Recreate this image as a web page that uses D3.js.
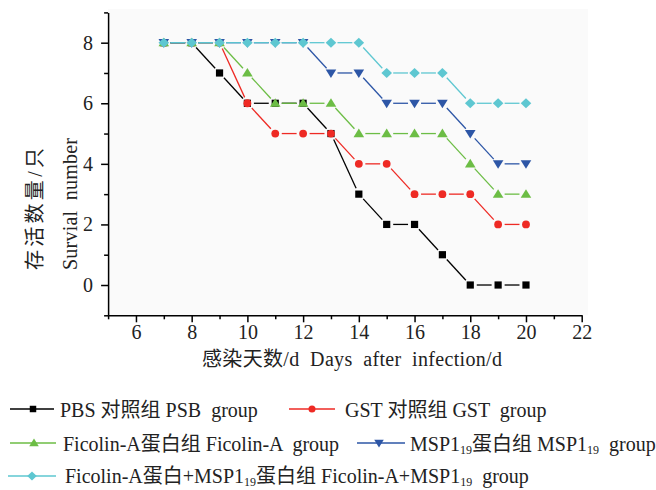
<!DOCTYPE html>
<html>
<head>
<meta charset="utf-8">
<script src="https://cdn.jsdelivr.net/npm/d3@7"></script>
<style>
  html, body { margin: 0; padding: 0; background: #fff; }
  svg { display: block; }
  text { font-family: "Liberation Serif", "Times New Roman", "Noto Sans CJK SC", serif; fill: #222; }
</style>
</head>
<body>
<svg id="chart" width="656" height="490"></svg>
<script>
// ---- data ----
const days = [7, 8, 9, 10, 11, 12, 13, 14, 15, 16, 17, 18, 19, 20];
const pbsGroup      = [8, 8, 7, 6, 6, 6, 5, 3, 2, 2, 1, 0, 0, 0];
const gstGroup      = [8, 8, 8, 6, 5, 5, 5, 4, 4, 3, 3, 3, 2, 2];
const ficolinGroup  = [8, 8, 8, 7, 6, 6, 6, 5, 5, 5, 5, 4, 3, 3];
const mspGroup      = [8, 8, 8, 8, 8, 8, 7, 7, 6, 6, 6, 5, 4, 4];
const comboGroup    = [8, 8, 8, 8, 8, 8, 8, 8, 7, 7, 7, 6, 6, 6];
const xMajorTicks = [6, 8, 10, 12, 14, 16, 18, 20, 22];
const xMinorTicks = [5, 7, 9, 11, 13, 15, 17, 19, 21];
const yMajorTicks = [0, 2, 4, 6, 8];
const yMinorTicks = [-1, 1, 3, 5, 7, 9];
const xTitle = "感染天数/d  Days  after  infection/d";
const yTitleCn = "存活数量/只";
const yTitleEn = "Survial  number";

// legend labels: pieces [text, isSubscript]
const labelPBS   = [["PBS 对照组 PSB  group", false]];
const labelGST   = [["GST 对照组 GST  group", false]];
const labelFico  = [["Ficolin-A蛋白组 Ficolin-A  group", false]];
const labelMSP   = [["MSP1", false], ["19", true], ["蛋白组 MSP1", false], ["19", true], ["  group", false]];
const labelCombo = [["Ficolin-A蛋白+MSP1", false], ["19", true], ["蛋白组 Ficolin-A+MSP1", false], ["19", true], ["  group", false]];

const series = [
  { values: pbsGroup,     color: "#000000", marker: "square",   label: labelPBS },
  { values: gstGroup,     color: "#ee2a24", marker: "circle",   label: labelGST },
  { values: ficolinGroup, color: "#6cbd45", marker: "triangle", label: labelFico },
  { values: mspGroup,     color: "#2d56a6", marker: "down",     label: labelMSP },
  { values: comboGroup,   color: "#5ec7d1", marker: "diamond",  label: labelCombo }
];

// ---- layout ----
const svg = d3.select("#chart");
const x = d3.scaleLinear().domain([5, 22]).range([108.1, 581.7]);
const y = d3.scaleLinear().domain([-1, 9]).range([315.3, 12.4]);

// plot background
svg.append("rect")
  .attr("x", x(5)).attr("y", 9)
  .attr("width", 588 - x(5)).attr("height", y(-1) - 9)
  .attr("fill", "#fafafa");

// axes
function styleAxis(g) {
  g.selectAll("path, line").attr("stroke", "#000").attr("stroke-width", 1.5);
  g.selectAll("text").style("font-size", "20px")
    .style("font-family", '"Liberation Serif", "Times New Roman", serif').attr("fill", "#222");
}
const gx = svg.append("g").attr("transform", `translate(0,${y(-1)})`);
gx.call(d3.axisBottom(x).tickValues(xMajorTicks).tickSize(7).tickSizeOuter(0).tickPadding(3).tickFormat(d3.format("d")));
gx.append("g").call(d3.axisBottom(x).tickValues(xMinorTicks).tickSize(4).tickSizeOuter(0).tickFormat(""))
  .select(".domain").remove();
styleAxis(gx);

const gy = svg.append("g").attr("transform", `translate(${x(5)},0)`);
gy.call(d3.axisLeft(y).tickValues(yMajorTicks).tickSize(7).tickSizeOuter(0).tickPadding(8).tickFormat(d3.format("d")));
gy.append("g").call(d3.axisLeft(y).tickValues(yMinorTicks).tickSize(4).tickSizeOuter(0).tickFormat(""))
  .select(".domain").remove();
styleAxis(gy);

// titles
svg.append("text").attr("x", 202).attr("y", 366)
  .attr("textLength", 300).attr("lengthAdjust", "spacing")
  .style("font-size", "20px").style("white-space", "pre").text(xTitle);

svg.append("text").attr("transform", "translate(42,270) rotate(-90)")
  .attr("textLength", 122).attr("lengthAdjust", "spacing")
  .style("font-size", "20px").text(yTitleCn);
svg.append("text").attr("transform", "translate(77,270) rotate(-90)")
  .attr("textLength", 132).attr("lengthAdjust", "spacing")
  .style("font-size", "20px").style("white-space", "pre").text(yTitleEn);

// marker drawing
function drawMarker(g, type, cx, cy, color, scale) {
  const s = scale || 1;
  if (type === "square") {
    g.append("rect").attr("x", cx - 3.6 * s).attr("y", cy - 3.6 * s)
      .attr("width", 7.2 * s).attr("height", 7.2 * s).attr("fill", color);
  } else if (type === "circle") {
    g.append("circle").attr("cx", cx).attr("cy", cy).attr("r", 3.9 * s).attr("fill", color);
  } else if (type === "triangle") {
    g.append("path").attr("d", `M${cx},${cy - 5 * s}L${cx + 5.3 * s},${cy + 3.6 * s}L${cx - 5.3 * s},${cy + 3.6 * s}Z`).attr("fill", color);
  } else if (type === "down") {
    g.append("path").attr("d", `M${cx},${cy + 5 * s}L${cx + 5.3 * s},${cy - 3.6 * s}L${cx - 5.3 * s},${cy - 3.6 * s}Z`).attr("fill", color);
  } else if (type === "diamond") {
    g.append("path").attr("d", `M${cx},${cy - 5 * s}L${cx + 5.3 * s},${cy}L${cx},${cy + 5 * s}L${cx - 5.3 * s},${cy}Z`).attr("fill", color);
  }
}

// series: line segments with gaps around markers (Origin style)
const gap = 6.5;
series.forEach(s => {
  const g = svg.append("g");
  const pts = days.map((d, i) => [x(d), y(s.values[i])]);
  for (let i = 0; i < pts.length - 1; i++) {
    const [x1, y1] = pts[i], [x2, y2] = pts[i + 1];
    const len = Math.hypot(x2 - x1, y2 - y1);
    const ux = (x2 - x1) / len, uy = (y2 - y1) / len;
    g.append("line")
      .attr("x1", x1 + ux * gap).attr("y1", y1 + uy * gap)
      .attr("x2", x2 - ux * gap).attr("y2", y2 - uy * gap)
      .attr("stroke", s.color).attr("stroke-width", 1.3);
  }
  pts.forEach(p => drawMarker(g, s.marker, p[0], p[1], s.color));
});

// legend
const legendPos = [
  { x1: 10, x2: 54, mx: 33,  ly: 409, tx: 60,  ty: 417 },
  { x1: 289, x2: 335, mx: 312, ly: 409, tx: 345, ty: 417 },
  { x1: 10, x2: 56, mx: 34,  ly: 443, tx: 63,  ty: 451 },
  { x1: 357, x2: 405, mx: 379, ly: 443, tx: 410, ty: 451 },
  { x1: 8,  x2: 56, mx: 32,  ly: 476, tx: 65,  ty: 483 }
];
series.forEach((s, i) => {
  const p = legendPos[i];
  const g = svg.append("g");
  g.append("line").attr("x1", p.x1).attr("x2", p.x2).attr("y1", p.ly).attr("y2", p.ly)
    .attr("stroke", s.color).attr("stroke-width", 1.6);
  drawMarker(g, s.marker, p.mx, p.ly, s.color, 0.9);
  const t = g.append("text").attr("x", p.tx).attr("y", p.ty)
    .style("font-size", "20px").style("white-space", "pre");
  s.label.forEach(([txt, sub]) => {
    if (sub) {
      t.append("tspan").attr("dy", 3).style("font-size", "12px").text(txt);
    } else {
      const ts = t.append("tspan").text(txt);
      if (t.selectAll("tspan").size() > 1) ts.attr("dy", -3);
    }
  });
});
</script>
</body>
</html>
